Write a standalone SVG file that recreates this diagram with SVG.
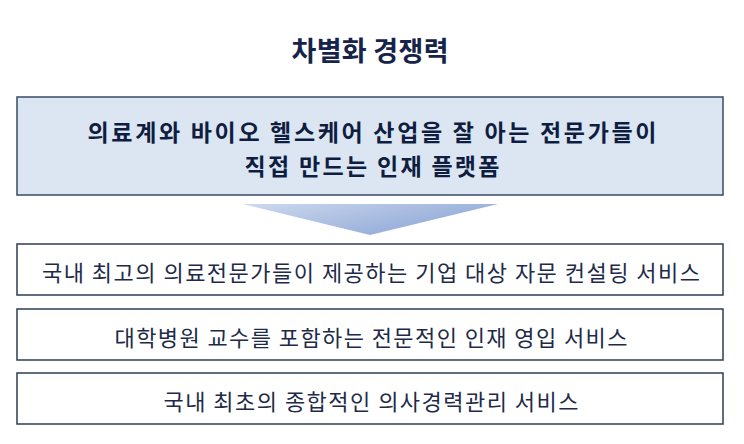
<svg xmlns="http://www.w3.org/2000/svg" width="744" height="444" viewBox="0 0 744 444">
  <style>
    text { font-family: "Noto Sans CJK KR", "Noto Sans", sans-serif; text-anchor: middle; dominant-baseline: central; }
    .title { font-size: 27px; font-weight: bold; fill: #16244a; }
    .head { font-size: 23px; font-weight: bold; fill: #0f1d40; }
    .item { font-size: 22px; fill: #1e2b48; }
    .box { fill: #ffffff; stroke: #2e3d58; stroke-width: 1.5; }
    .hbox { fill: #dce6f3; stroke: #3a4a66; stroke-width: 1.5; }
  </style>
  <defs>
    <linearGradient id="arrowGrad" x1="0" y1="0" x2="1" y2="0.6">
      <stop offset="0" stop-color="#cdd9ee"/>
      <stop offset="1" stop-color="#8ea7d6"/>
    </linearGradient>
  </defs>
  <rect width="744" height="444" fill="#ffffff"/>
  <g id="title">
    <text class="title" x="370" y="49.5" textLength="157" lengthAdjust="spacing">차별화 경쟁력</text>
  </g>
  <g id="platform">
    <rect class="hbox" x="17" y="97" width="706" height="98"/>
    <text class="head" x="372" y="131" textLength="569" lengthAdjust="spacing">의료계와 바이오 헬스케어 산업을 잘 아는 전문가들이</text>
    <text class="head" x="372" y="164.5" textLength="255" lengthAdjust="spacing">직접 만드는 인재 플랫폼</text>
  </g>
  <g id="connectors">
    <polygon points="243,204 498,204 370,235" fill="url(#arrowGrad)"/>
  </g>
  <g id="service1">
    <rect class="box" x="17" y="244" width="706" height="51"/>
    <text class="item" x="371" y="271" textLength="658" lengthAdjust="spacing">국내 최고의 의료전문가들이 제공하는 기업 대상 자문 컨설팅 서비스</text>
  </g>
  <g id="service2">
    <rect class="box" x="17" y="309" width="706" height="51"/>
    <text class="item" x="371" y="336" textLength="513" lengthAdjust="spacing">대학병원 교수를 포함하는 전문적인 인재 영입 서비스</text>
  </g>
  <g id="service3">
    <rect class="box" x="17" y="373" width="706" height="51"/>
    <text class="item" x="371" y="400" textLength="415" lengthAdjust="spacing">국내 최초의 종합적인 의사경력관리 서비스</text>
  </g>
</svg>
